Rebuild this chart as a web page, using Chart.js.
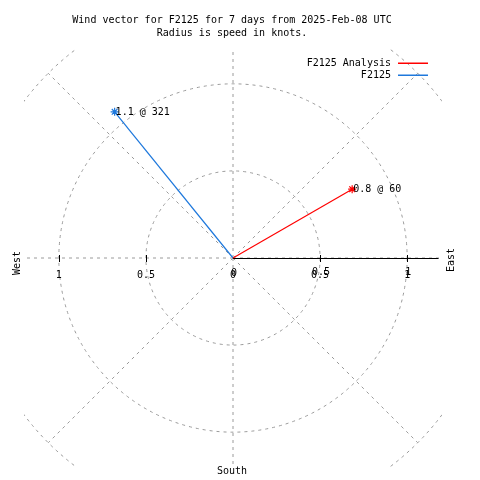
<!DOCTYPE html>
<html lang="en">
<head>
    <meta charset="UTF-8">
    <title>Wind vector F2125</title>
    <script src="https://cdn.jsdelivr.net/npm/chart.js"></script>
    <style>
        body { margin: 0; background: #fff; }
        #wind { display: block; }
    </style>
</head>
<body>
    <canvas id="wind" width="480" height="480"></canvas>

    <script>
        // Data
        const seriesNames = ['F2125 Analysis', 'F2125'];
        const speeds = [0.79, 1.08];        // knots
        const directions = [60, 321];       // degrees, compass
        const rTicks = [0.5, 1];
        const gridRadii = [0.5, 1, 1.5];
        const gridAngles = [0, 45, 90, 135, 180, 225, 270, 315];
        const titleLines = ['Wind vector for F2125 for 7 days from 2025-Feb-08 UTC', 'Radius is speed in knots.'];

        const colors = ['#ff0000', '#1e78dc'];
        const RANGE = 1.2;
        const AXIS_END = 1.18;
        const FONT = '11px "DejaVu Sans Mono", "Liberation Mono", monospace';

        function toXY(speed, dir) {
            const a = dir * Math.PI / 180;
            return { x: speed * Math.sin(a), y: speed * Math.cos(a) };
        }

        const datasets = seriesNames.map((name, i) => ({
            label: name,
            data: [{ x: 0, y: 0 }, toXY(speeds[i], directions[i])],
            borderColor: colors[i],
            backgroundColor: colors[i],
            borderWidth: 1.2,
            showLine: true,
            pointStyle: 'star',
            pointRadius: [0, 4],
            pointBorderWidth: 1.2,
            pointBorderColor: colors[i]
        }));

        function txt(ctx, s, x, y, align, rot) {
            ctx.save();
            ctx.translate(x, y);
            if (rot) ctx.rotate(rot);
            ctx.scale(0.91, 1);
            ctx.textAlign = align;
            ctx.textBaseline = 'middle';
            ctx.fillText(s, 0, 0);
            ctx.restore();
        }

        // polar grid, axis and all text
        const polarPlugin = {
            id: 'polar',
            beforeDatasetsDraw(chart) {
                const { ctx, chartArea: ca, scales: { x, y } } = chart;
                const cx = x.getPixelForValue(0), cy = y.getPixelForValue(0);
                const unit = x.getPixelForValue(1) - cx;
                ctx.save();
                ctx.beginPath();
                ctx.rect(ca.left, ca.top, ca.right - ca.left, ca.bottom - ca.top);
                ctx.clip();
                ctx.strokeStyle = '#9a9a9a';
                ctx.lineWidth = 1;
                ctx.setLineDash([3, 4]);
                gridRadii.forEach(r => {
                    ctx.beginPath();
                    ctx.arc(cx, cy, r * unit, 0, Math.PI * 2);
                    ctx.stroke();
                });
                const rOut = gridRadii[gridRadii.length - 1];
                gridAngles.forEach(d => {
                    const p = toXY(d % 90 === 0 ? RANGE * 1.5 : rOut, d);
                    ctx.beginPath();
                    ctx.moveTo(cx, cy);
                    ctx.lineTo(x.getPixelForValue(p.x), y.getPixelForValue(p.y));
                    ctx.stroke();
                });
                ctx.restore();

                // r axis on the east side
                ctx.save();
                ctx.setLineDash([]);
                ctx.strokeStyle = '#000';
                ctx.lineWidth = 1;
                ctx.beginPath();
                ctx.moveTo(cx, cy + 0.5);
                ctx.lineTo(x.getPixelForValue(AXIS_END), cy + 0.5);
                rTicks.forEach(t => {
                    [-t, t].forEach(v => {
                        const px = Math.round(x.getPixelForValue(v)) + 0.5;
                        ctx.moveTo(px, cy - 3);
                        ctx.lineTo(px, cy + 4);
                    });
                });
                ctx.stroke();
                ctx.restore();
            },
            afterDatasetsDraw(chart) {
                const { ctx, scales: { x, y } } = chart;
                const cx = x.getPixelForValue(0), cy = y.getPixelForValue(0);
                ctx.save();
                ctx.setLineDash([]);
                ctx.globalAlpha = 1;
                ctx.font = FONT;
                ctx.fillStyle = '#000';

                txt(ctx, titleLines[0], 232, 20, 'center');
                txt(ctx, titleLines[1], 232, 33, 'center');

                // tick labels: x axis ones plus the doubled r axis ones
                const tickY = cy + 17;
                txt(ctx, '0', cx, tickY, 'center');
                txt(ctx, '0', cx + 1, tickY - 2, 'center');
                rTicks.forEach(t => {
                    txt(ctx, String(t), x.getPixelForValue(-t), tickY, 'center');
                    txt(ctx, String(t), x.getPixelForValue(t), tickY, 'center');
                    txt(ctx, String(t), x.getPixelForValue(t) + 1, tickY - 3, 'center');
                });

                txt(ctx, 'West', 17, 263, 'center', -Math.PI / 2);
                txt(ctx, 'East', 451, 260, 'center', -Math.PI / 2);
                txt(ctx, 'South', 232, 471, 'center');

                // point labels
                seriesNames.forEach((n, i) => {
                    const p = toXY(speeds[i], directions[i]);
                    const s = speeds[i].toFixed(1) + ' @ ' + directions[i];
                    txt(ctx, s, x.getPixelForValue(p.x) + 1, y.getPixelForValue(p.y), 'left');
                });

                // legend
                seriesNames.forEach((n, i) => {
                    const ly = 63 + i * 12;
                    ctx.fillStyle = '#000';
                    txt(ctx, n, 391, ly, 'right');
                    ctx.fillStyle = colors[i];
                    ctx.fillRect(398, ly - 0.5, 30, 1.5);
                });
                ctx.restore();
            }
        };

        new Chart(document.getElementById('wind'), {
            type: 'scatter',
            data: { datasets },
            options: {
                responsive: false,
                animation: false,
                devicePixelRatio: 1,
                layout: { padding: { left: 24, right: 38, top: 49, bottom: 13 } },
                scales: {
                    x: { type: 'linear', min: -RANGE, max: RANGE, display: false },
                    y: { type: 'linear', min: -RANGE, max: RANGE, display: false }
                },
                plugins: {
                    legend: { display: false },
                    title: { display: false },
                    tooltip: { enabled: false }
                }
            },
            plugins: [polarPlugin]
        });
    </script>
</body>
</html>
